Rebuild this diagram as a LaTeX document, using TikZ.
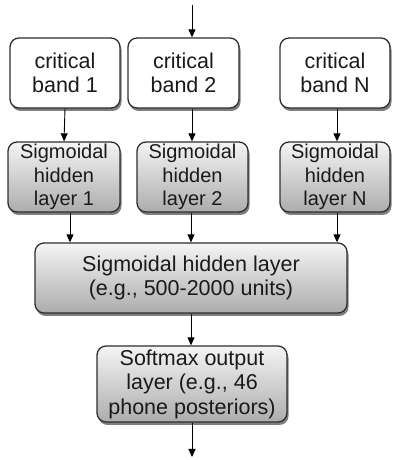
\documentclass[tikz,border=0pt]{standalone}
\usepackage{fontspec}
\setmainfont{Liberation Sans}
\usetikzlibrary{shadows,arrows.meta,calc}
\definecolor{edge}{HTML}{2e2e2e}
\definecolor{txt}{HTML}{1a1a1a}
\begin{document}
\begin{tikzpicture}[x=1pt,y=1pt,
  box/.style={draw=edge, line width=1.3pt, rounded corners=9pt, align=center,
    text=txt, font=\fontsize{21.5}{24.5}\selectfont, inner sep=0pt,
    drop shadow={shadow xshift=1.5pt, shadow yshift=-3pt, opacity=0.5, fill=black}},
  whitebox/.style={box, fill=white},
  graybox/.style={box, top color=white!92!gray, bottom color=gray!65},
  smallgray/.style={graybox, font=\fontsize{20}{23.5}\selectfont},
  conn/.style={draw=black, line width=0.9pt, -{Triangle[length=8pt,width=7pt]}}]
\useasboundingbox (0,0) rectangle (393,460);
% pixel y -> 460 - y
\node[whitebox, minimum width=110pt, minimum height=70pt] (cb1) at (65,387) {critical\\band 1};
\node[whitebox, minimum width=111pt, minimum height=70pt] (cb2) at (183.5,387) {critical\\band 2};
\node[whitebox, minimum width=110pt, minimum height=70pt] (cbN) at (335,387) {critical\\band N};
\node[smallgray, minimum width=112pt, minimum height=70pt] (sig1) at (64,283) {Sigmoidal\\hidden\\layer 1};
\node[smallgray, minimum width=111pt, minimum height=70pt] (sig2) at (192.5,283) {Sigmoidal\\hidden\\layer 2};
\node[smallgray, minimum width=110pt, minimum height=70pt] (sigN) at (335,283) {Sigmoidal\\hidden\\layer N};
\node[graybox, minimum width=312pt, minimum height=70pt] (big) at (191,182) {Sigmoidal hidden layer\\(e.g., 500-2000 units)};
\node[graybox, minimum width=190pt, minimum height=76pt] (soft) at (192,76) {Softmax output\\layer (e.g., 46\\phone posteriors)};
\coordinate (in) at (192,455);
\coordinate (out) at (192,3);
\draw[conn] (in) -- (in |- cb2.north);
\draw[conn] (cb1.south) -- (sig1.north);
\draw[conn] ([xshift=8.5pt]cb2.south) -- ([xshift=8.5pt]cb2.south |- sig2.north);
\draw[conn] ([xshift=2pt]cbN.south) -- ([xshift=2pt]cbN.south |- sigN.north);
\draw[conn] ([xshift=6pt]sig1.south) -- ([xshift=6pt]sig1.south |- big.north);
\draw[conn] ([xshift=-1.5pt]sig2.south) -- ([xshift=-1.5pt]sig2.south |- big.north);
\draw[conn] ([xshift=2pt]sigN.south) -- ([xshift=2pt]sigN.south |- big.north);
\draw[conn] (big.south) -- (big.south |- soft.north);
\draw[conn] (soft.south) -- (out);
\end{tikzpicture}
\end{document}
